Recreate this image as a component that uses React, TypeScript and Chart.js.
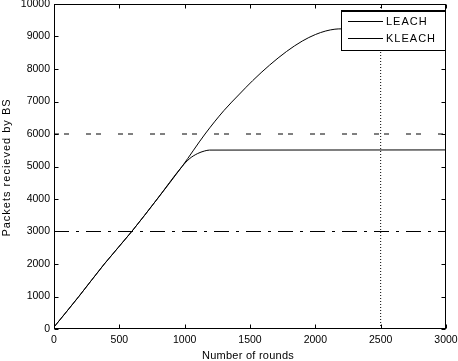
import React, { useEffect, useRef } from 'react';
import { Chart, registerables } from 'chart.js';

Chart.register(...registerables);

const leachRounds = [0, 190, 385, 595, 790, 980, 1156, 1300, 1420, 1520, 1650, 1780, 1900, 2000, 2080, 2150, 2200, 3000];
const leachPackets = [60, 1000, 2000, 3000, 4000, 5000, 6000, 6720, 7230, 7640, 8120, 8540, 8860, 9060, 9170, 9225, 9235, 9235];

const kleachRounds = [0, 190, 385, 595, 790, 980, 1040, 1100, 1150, 1190, 3000];
const kleachPackets = [60, 1000, 2000, 3000, 4000, 5000, 5250, 5400, 5475, 5505, 5510];

const thresholdLevels = [6000, 3000];
const markerRound = 2500;

const xRange = [0, 3000];
const yRange = [0, 10000];
const xStep = 500;
const yStep = 1000;

const seriesLabels = ['LEACH', 'KLEACH'];
const xTitle = 'Number of rounds';
const yTitle = 'Packets recieved by BS';

const FONT = "'Liberation Sans', Arial, Helvetica, sans-serif";

const framePlugin = {
  id: 'matlabFrame',
  afterDraw(chart: any) {
    const { ctx, chartArea: a, scales } = chart;
    ctx.save();
    ctx.strokeStyle = '#000';
    ctx.lineWidth = 1;
    const L = Math.round(a.left) + 0.5;
    const R = Math.round(a.right) - 0.5;
    const T = Math.round(a.top) + 0.5;
    const B = Math.round(a.bottom) - 0.5;
    const tl = 4;
    ctx.strokeRect(L, T, R - L, B - T);
    ctx.beginPath();
    scales.x.ticks.forEach((t: any) => {
      const px = Math.round(scales.x.getPixelForValue(t.value)) + 0.5;
      ctx.moveTo(px, B);
      ctx.lineTo(px, B - tl);
      ctx.moveTo(px, T);
      ctx.lineTo(px, T + tl);
    });
    scales.y.ticks.forEach((t: any) => {
      const py = Math.round(scales.y.getPixelForValue(t.value)) + 0.5;
      ctx.moveTo(L, py);
      ctx.lineTo(L + tl, py);
      ctx.moveTo(R, py);
      ctx.lineTo(R - tl, py);
    });
    ctx.stroke();

    // legend
    const bx = Math.round(a.right) - 105;
    const by = Math.round(a.top) + 6;
    const bw = 104;
    const bh = 40;
    ctx.fillStyle = '#fff';
    ctx.fillRect(bx, by, bw, bh);
    ctx.strokeRect(bx + 0.5, by + 0.5, bw, bh);
    ctx.beginPath();
    ctx.moveTo(bx, by + 1.5);
    ctx.lineTo(bx + bw, by + 1.5);
    ctx.stroke();
    ctx.font = `11px ${FONT}`;
    (ctx as any).letterSpacing = '1px';
    ctx.fillStyle = '#000';
    ctx.textAlign = 'left';
    ctx.textBaseline = 'middle';
    const ds = chart.data.datasets.slice(0, 2);
    ds.forEach((d: any, i: number) => {
      const ly = by + 11.5 + i * 17;
      ctx.beginPath();
      ctx.lineWidth = 1;
      ctx.moveTo(bx + 7, ly);
      ctx.lineTo(bx + 42, ly);
      ctx.stroke();
      ctx.fillText(d.label, bx + 45, ly + 0.5);
    });

    // axis titles
    ctx.textAlign = 'center';
    ctx.textBaseline = 'middle';
    (ctx as any).letterSpacing = '0.25px';
    ctx.fillText(xTitle, (a.left + a.right) / 2 - 2, 356);
    ctx.translate(7, (a.top + a.bottom) / 2 + 1);
    ctx.rotate(-Math.PI / 2);
    (ctx as any).letterSpacing = '1px';
    ctx.fillText(yTitle, 0, 0);
    ctx.restore();
  },
};

export default function App() {
  const ref = useRef<HTMLCanvasElement | null>(null);

  useEffect(() => {
    if (!ref.current) return;
    const toPts = (xs: number[], ys: number[]) => xs.map((x, i) => ({ x, y: ys[i] }));
    const chart = new Chart(ref.current, {
      type: 'line',
      data: {
        datasets: [
          {
            label: seriesLabels[0],
            data: toPts(leachRounds, leachPackets),
            borderColor: '#000',
            borderWidth: 1,
            pointRadius: 0,
            cubicInterpolationMode: 'monotone',
            fill: false,
          },
          {
            label: seriesLabels[1],
            data: toPts(kleachRounds, kleachPackets),
            borderColor: '#000',
            borderWidth: 1,
            pointRadius: 0,
            cubicInterpolationMode: 'monotone',
            fill: false,
          },
          {
            label: 'level1',
            data: toPts(xRange, [thresholdLevels[0], thresholdLevels[0]]),
            borderColor: '#000',
            borderWidth: 1,
            borderDash: [5, 5, 5, 17],
            pointRadius: 0,
            fill: false,
          },
          {
            label: 'level2',
            data: toPts(xRange, [thresholdLevels[1], thresholdLevels[1]]),
            borderColor: '#000',
            borderWidth: 1,
            borderDash: [15, 7, 3, 7],
            pointRadius: 0,
            fill: false,
          },
          {
            label: 'marker',
            data: toPts([markerRound, markerRound], yRange),
            borderColor: '#000',
            borderWidth: 1,
            borderDash: [1, 2],
            pointRadius: 0,
            fill: false,
          },
        ],
      } as any,
      options: {
        animation: false,
        responsive: false,
        maintainAspectRatio: false,
        layout: { padding: { left: 0, right: 12, top: 4, bottom: 0 } },
        plugins: { legend: { display: false }, tooltip: { enabled: false } },
        scales: {
          x: {
            type: 'linear',
            min: xRange[0],
            max: xRange[1],
            ticks: {
              stepSize: xStep,
              padding: 5,
              maxRotation: 0,
              color: '#000',
              font: { family: FONT, size: 10.5 },
              callback: (v: any) => String(v),
            },
            grid: { display: false, drawTicks: false },
            border: { display: false },
            afterFit: (s: any) => {
              s.height = 32;
              s.paddingLeft = 0;
              s.paddingRight = 0;
            },
          },
          y: {
            type: 'linear',
            min: yRange[0],
            max: yRange[1],
            ticks: {
              stepSize: yStep,
              padding: 4,
              color: '#000',
              font: { family: FONT, size: 10.5 },
              callback: (v: any) => String(v),
            },
            grid: { display: false, drawTicks: false },
            border: { display: false },
            afterFit: (s: any) => {
              s.width = 54;
              s.paddingTop = 0;
              s.paddingBottom = 0;
            },
          },
        },
      } as any,
      plugins: [framePlugin],
    });
    return () => chart.destroy();
  }, []);

  return (
    <div style={{ position: 'fixed', left: 0, top: 0, width: 458, height: 361, background: '#fff' }}>
      <canvas ref={ref} width={458} height={361} style={{ width: 458, height: 361, display: 'block' }} />
    </div>
  );
}
